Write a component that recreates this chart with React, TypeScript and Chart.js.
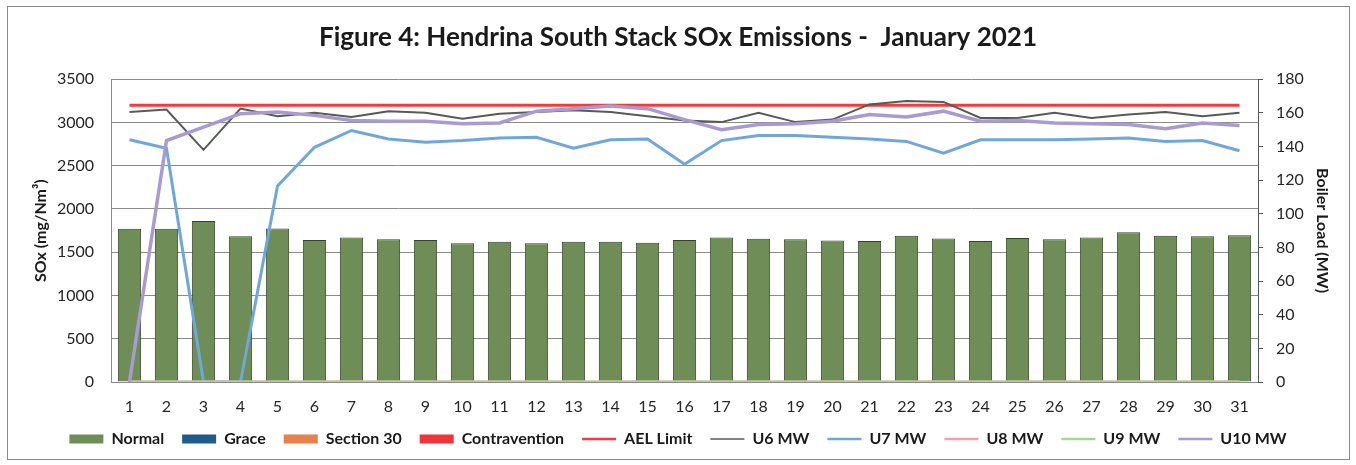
import React, { useEffect, useRef } from 'react';
import { Chart, registerables } from 'chart.js';

Chart.register(...registerables);

const days = ['1', '2', '3', '4', '5', '6', '7', '8', '9', '10', '11', '12', '13', '14', '15', '16', '17', '18', '19', '20', '21', '22', '23', '24', '25', '26', '27', '28', '29', '30', '31'];

// SOx emissions (mg/Nm³), left axis
const normal = [1770, 1770, 1860, 1685, 1775, 1640, 1670, 1650, 1640, 1605, 1620, 1605, 1620, 1620, 1610, 1640, 1670, 1655, 1650, 1635, 1630, 1690, 1660, 1630, 1665, 1650, 1670, 1730, 1690, 1685, 1695];
const grace: (number | null)[] = [];
const section30: (number | null)[] = [];
const contravention: (number | null)[] = [];
const aelLimit = [3200, 3200, 3200, 3200, 3200, 3200, 3200, 3200, 3200, 3200, 3200, 3200, 3200, 3200, 3200, 3200, 3200, 3200, 3200, 3200, 3200, 3200, 3200, 3200, 3200, 3200, 3200, 3200, 3200, 3200, 3200];

// Boiler load (MW), right axis
const u6 = [160.5, 162, 138, 162.5, 158, 160, 157.5, 161, 160, 156.5, 159.5, 160.5, 161.5, 160.5, 158, 155.5, 154.5, 160, 154.5, 156, 165, 167, 166.5, 157, 157, 160, 157, 159, 160.5, 158, 160];
const u7 = [144, 139, 0, 0, 116.5, 139.5, 149.5, 144.5, 142.5, 143.5, 145, 145.5, 139, 144, 144.5, 129.5, 143.5, 146.5, 146.5, 145.5, 144.5, 143, 136, 144, 144, 144, 144.5, 145, 143, 143.5, 137.5];
const u8 = [0, 0, 0, 0, 0, 0, 0, 0, 0, 0, 0, 0, 0, 0, 0, 0, 0, 0, 0, 0, 0, 0, 0, 0, 0, 0, 0, 0, 0, 0, 0];
const u9 = [0, 0, 0, 0, 0, 0, 0, 0, 0, 0, 0, 0, 0, 0, 0, 0, 0, 0, 0, 0, 0, 0, 0, 0, 0, 0, 0, 0, 0, 0, 0];
const u10 = [0, 143.5, 151.5, 159.5, 160.5, 158.5, 155.5, 155, 155, 153.5, 154, 161, 162.5, 164, 162.5, 156, 150, 153, 153.5, 155, 159, 157.5, 161, 155, 155.5, 154, 153.5, 153, 150.5, 154, 152.5];

const leftTicks = { min: 0, max: 3500, step: 500 };
const rightTicks = { min: 0, max: 180, step: 20 };

const W = 1356;
const H = 465;

export default function App() {
  const ref = useRef<HTMLCanvasElement | null>(null);

  useEffect(() => {
    if (!ref.current) return;
    Chart.defaults.font.family = 'Lato, "Open Sans", sans-serif';
    const lineDs = (label: string, data: number[], color: string, width: number, order: number, axis: string) => ({
      type: 'line' as const,
      label,
      data,
      borderColor: color,
      backgroundColor: color,
      borderWidth: width,
      pointRadius: 0,
      tension: 0,
      order,
      yAxisID: axis,
    });
    const barDs = (label: string, data: (number | null)[], color: string, order: number) => ({
      type: 'bar' as const,
      label,
      data,
      backgroundColor: color,
      borderColor: '#34422a',
      borderWidth: label === 'Normal' ? 1 : 0,
      borderSkipped: 'start',
      grouped: false,
      order,
      yAxisID: 'y',
      categoryPercentage: 0.63,
      barPercentage: 1,
    });
    const chart = new Chart(ref.current, {
      type: 'bar',
      data: {
        labels: days,
        datasets: [
          barDs('Normal', normal, '#6e8d57', 10),
          barDs('Grace', grace, '#1f5c8c', 9),
          barDs('Section 30', section30, '#e8804a', 8),
          barDs('Contravention', contravention, '#f0343c', 7),
          lineDs('AEL Limit', aelLimit, '#f43a3a', 3, 6, 'y'),
          lineDs('U6 MW', u6, '#555b55', 2, 5, 'y1'),
          lineDs('U7 MW', u7, '#6fa7dc', 3, 4, 'y1'),
          lineDs('U8 MW', u8, '#f2a1ab', 3, 3, 'y1'),
          lineDs('U9 MW', u9, '#a6d696', 3, 2, 'y1'),
          lineDs('U10 MW', u10, '#a99ad2', 3.5, 1, 'y1'),
        ] as any,
      },
      options: {
        responsive: false,
        animation: false,
        devicePixelRatio: 1,
        layout: { padding: { top: 0, bottom: 8, left: 0, right: 0 } },
        plugins: {
          tooltip: { enabled: false },
          title: {
            display: true,
            text: 'Figure 4: Hendrina South Stack SOx Emissions -  January 2021',
            color: '#1a1a1a',
            font: { size: 26, weight: 'bold' },
            padding: { top: 22, bottom: 26 },
          },
          legend: {
            position: 'bottom',
            labels: {
              usePointStyle: true,
              pointStyleWidth: 34,
              boxHeight: 9,
              padding: 18,
              color: '#1a1a1a',
              font: { size: 16, weight: 'bold' },
              generateLabels: (c: any) =>
                c.data.datasets.map((ds: any, i: number) => ({
                  text: ds.label,
                  fillStyle: ds.backgroundColor,
                  strokeStyle: ds.type === 'line' ? ds.borderColor : ds.backgroundColor,
                  lineWidth: ds.type === 'line' ? (ds.label === 'U6 MW' ? 1.5 : 2.5) : 0,
                  pointStyle: ds.type === 'line' ? 'line' : 'rect',
                  hidden: false,
                  datasetIndex: i,
                  fontColor: '#1a1a1a',
                })),
            },
          },
        },
        scales: {
          x: {
            grid: { display: false },
            border: { display: true, color: '#8a8a8a' },
            ticks: { color: '#262626', font: { size: 16 }, padding: 7, maxRotation: 0, autoSkip: false },
            afterFit: (s: any) => { s.height = 31; },
          },
          y: {
            position: 'left',
            min: leftTicks.min,
            max: leftTicks.max,
            ticks: {
              stepSize: leftTicks.step,
              color: '#262626',
              font: { size: 16 },
              padding: 17,
              callback: (v: any) => String(v),
            },
            grid: { color: '#8a8a8a', drawTicks: false, lineWidth: 1 },
            border: { display: true, color: '#8a8a8a' },
            title: {
              display: true,
              text: 'SOx (mg/Nm³)',
              color: '#1a1a1a',
              font: { size: 16, weight: 'bold' },
              padding: { top: 31, bottom: 0 },
            },
            afterFit: (s: any) => { s.width = 111; },
          },
          y1: {
            position: 'right',
            min: rightTicks.min,
            max: rightTicks.max,
            ticks: {
              stepSize: rightTicks.step,
              color: '#262626',
              font: { size: 16 },
              padding: 13,
              callback: (v: any) => String(v),
            },
            grid: { drawOnChartArea: false, drawTicks: true, tickLength: 5, color: '#555555' },
            border: { display: true, color: '#555555' },
            title: {
              display: true,
              text: 'Boiler Load (MW)',
              color: '#1a1a1a',
              font: { size: 16, weight: 'bold' },
              padding: { top: 24, bottom: 0 },
            },
            afterFit: (s: any) => { s.width = 98; },
          },
        },
      } as any,
    });
    return () => chart.destroy();
  }, []);

  return (
    <div style={{ position: 'absolute', left: 0, top: 0, width: W, height: H, background: '#ffffff' }}>
      <canvas ref={ref} width={W} height={H} style={{ position: 'absolute', left: 0, top: 0, width: W, height: H }} />
      <div
        style={{
          position: 'absolute',
          left: 7,
          top: 6,
          width: 1343,
          height: 454,
          boxSizing: 'border-box',
          border: '1px solid #8a8a8a',
          pointerEvents: 'none',
        }}
      />
    </div>
  );
}
